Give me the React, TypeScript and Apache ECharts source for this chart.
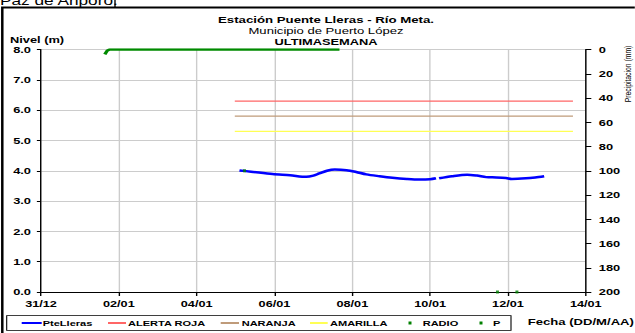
import React, { useEffect, useRef } from "react";
import * as echarts from "echarts";

// ---------- data ----------
const xTickLabels = ["31/12", "02/01", "04/01", "06/01", "08/01", "10/01", "12/01", "14/01"];
// day offsets from 31/12, water level (m)
const pteLlerasDays = [5.1, 5.4, 5.95, 6.4, 6.82, 7.0, 7.15, 7.35, 7.55, 7.85, 8.1, 8.36, 8.7, 9.03, 9.4, 9.72, 10.0, 10.15, 10.19, 10.23, 10.56, 10.95, 11.2, 11.44, 11.7, 11.95, 12.1, 12.46, 12.7, 12.93];
const pteLlerasLevel: (number | string)[] = [4.01, 3.97, 3.89, 3.85, 3.8, 3.84, 3.91, 4.0, 4.04, 4.02, 3.96, 3.88, 3.82, 3.77, 3.73, 3.71, 3.72, 3.75, "-", 3.75, 3.82, 3.87, 3.84, 3.79, 3.78, 3.76, 3.73, 3.75, 3.78, 3.82];
const alertDays = [4.98, 13.67];
const alertaRoja = [6.3, 6.3];
const naranja = [5.8, 5.8];
const amarilla = [5.3, 5.3];
const radioDays = [5.23, 11.73, 12.23];
const radioLevel = [4.0, 0, 0];
const pDays = [1.64, 1.7, 1.76, 7.67];
const pMm = [4, 1, 0, 0];

const seriesNames = ["PteLleras", "ALERTA ROJA", "NARANJA", "AMARILLA", "RADIO", "P"];
const seriesColors = ["#0000ff", "#ff6666", "#bf9b7a", "#ffff55", "#008000", "#008000"];

// ---------- layout ----------
const SX = 1.38; // horizontal stretch of the reference picture
const W = 635 / SX;
const X = (px: number) => px / SX;
const FONT = '"Liberation Sans", Arial, sans-serif';

const zip = (a: number[], b: (number | string)[]) => a.map((v, i) => [v, b[i]]);

export default function App() {
  const ref = useRef<HTMLDivElement>(null);
  useEffect(() => {
    if (!ref.current) return;
    const chart = echarts.init(ref.current, null, { renderer: "svg" });

    const legendLayout = [
      { kind: "line", x0: 21.7, x1: 41.7, tx: 42.7 },
      { kind: "line", x0: 108, x1: 126, tx: 128 },
      { kind: "line", x0: 220.7, x1: 239, tx: 241.7 },
      { kind: "line", x0: 310, x1: 327.7, tx: 330 },
      { kind: "dot", x0: 410, x1: 410, tx: 422.7 },
      { kind: "dot", x0: 481, x1: 481, tx: 493 },
    ];
    const ly = 323;
    const legendGraphics: any[] = [
      {
        type: "rect",
        shape: { x: X(6.7), y: 315.7, width: X(511 - 6.7), height: 14.6 },
        style: { fill: "#fff", stroke: "#000", lineWidth: 0.8 },
      },
    ];
    legendLayout.forEach((it, i) => {
      if (it.kind === "line") {
        legendGraphics.push({
          type: "line",
          shape: { x1: X(it.x0), y1: ly, x2: X(it.x1), y2: ly },
          style: { stroke: seriesColors[i], lineWidth: 2 },
        });
      } else {
        legendGraphics.push({
          type: "rect",
          shape: { x: X(it.x0 - 1.5), y: ly - 1.5, width: X(3), height: 3 },
          style: { fill: seriesColors[i] },
        });
      }
      legendGraphics.push({
        type: "text",
        x: X(it.tx),
        y: ly,
        style: {
          text: seriesNames[i],
          font: `bold 8px ${FONT}`,
          fill: "#000",
          align: "left",
          verticalAlign: "middle",
          textAlign: "left",
          textVerticalAlign: "middle",
        },
      });
    });

    const txt = (text: string, x: number, y: number, font: string, align = "left", extra: any = {}) => ({
      type: "text",
      x: X(x),
      y,
      ...extra,
      style: {
        text,
        font,
        fill: "#000",
        align,
        verticalAlign: "middle",
        textAlign: align,
        textVerticalAlign: "middle",
      },
    });

    const option: any = {
      animation: false,
      backgroundColor: "#fff",
      grid: { left: X(41), right: X(49), top: 49.5, bottom: 41, containLabel: false },
      xAxis: {
        type: "value",
        min: 0,
        max: 14,
        interval: 2,
        axisLine: { show: true, lineStyle: { color: "#000", width: 1 } },
        axisTick: { show: true, length: 4, lineStyle: { color: "#000" } },
        axisLabel: {
          margin: 7.5,
          color: "#000",
          fontFamily: FONT,
          fontWeight: "bold",
          fontSize: 9.2,
          formatter: (v: number) => xTickLabels[Math.round(v / 2)] ?? "",
        },
        splitLine: { show: true, lineStyle: { color: "#cccccc", width: 1 } },
      },
      yAxis: [
        {
          type: "value",
          min: 0,
          max: 8,
          interval: 1,
          axisLine: { show: true, lineStyle: { color: "#000", width: 1 } },
          axisTick: { show: true, length: 3, lineStyle: { color: "#000" } },
          axisLabel: {
            margin: X(10),
            color: "#000",
            fontFamily: FONT,
            fontWeight: "bold",
            fontSize: 9.3,
            formatter: (v: number) => v.toFixed(1),
          },
          splitLine: { show: true, lineStyle: { color: "#cccccc", width: 1 } },
        },
        {
          type: "value",
          position: "right",
          inverse: true,
          min: 0,
          max: 200,
          interval: 20,
          axisLine: { show: true, lineStyle: { color: "#000", width: 1 } },
          axisTick: { show: true, length: 4, lineStyle: { color: "#000" } },
          axisLabel: {
            margin: X(13),
            color: "#000",
            fontFamily: FONT,
            fontWeight: "bold",
            fontSize: 9.3,
          },
          splitLine: { show: false },
        },
      ],
      series: [
        {
          name: seriesNames[0],
          type: "line",
          data: zip(pteLlerasDays, pteLlerasLevel),
          smooth: 0.3,
          symbol: "none",
          connectNulls: false,
          lineStyle: { color: seriesColors[0], width: 2.5 },
          z: 5,
        },
        {
          name: seriesNames[1],
          type: "line",
          data: zip(alertDays, alertaRoja),
          symbol: "none",
          lineStyle: { color: seriesColors[1], width: 1.3 },
        },
        {
          name: seriesNames[2],
          type: "line",
          data: zip(alertDays, naranja),
          symbol: "none",
          lineStyle: { color: seriesColors[2], width: 1.3 },
        },
        {
          name: seriesNames[3],
          type: "line",
          data: zip(alertDays, amarilla),
          symbol: "none",
          lineStyle: { color: seriesColors[3], width: 1.3 },
        },
        {
          name: seriesNames[4],
          type: "scatter",
          data: zip(radioDays, radioLevel),
          symbol: "rect",
          symbolSize: [X(3), 3],
          itemStyle: { color: seriesColors[4] },
          z: 6,
        },
        {
          name: seriesNames[5],
          type: "line",
          yAxisIndex: 1,
          data: zip(pDays, pMm),
          symbol: "none",
          lineStyle: { color: "#008a00", width: 2.5 },
          z: 6,
        },
      ],
      graphic: [
        {
          type: "rect",
          shape: { x: X(2.3), y: 7.5, width: W + 20, height: 400 },
          style: { fill: "none", stroke: "#000", lineWidth: 1.8 },
          z: -1,
        },
        {
          type: "line",
          shape: { x1: X(115), y1: 0, x2: X(115), y2: 7.5 },
          style: { stroke: "#000", lineWidth: 1 },
        },
        {
          type: "text",
          x: 0,
          y: 7,
          style: {
            text: "Paz de Ariporo.",
            font: `12.5px ${FONT}`,
            fill: "#000",
            align: "left",
            verticalAlign: "bottom",
            textAlign: "left",
            textVerticalAlign: "bottom",
          },
        },
        txt("Estación Puente Lleras - Río Meta.", 326, 19.5, `bold 9.6px ${FONT}`, "center"),
        txt("Municipio de Puerto López", 326, 31, `9.5px ${FONT}`, "center"),
        txt("ULTIMASEMANA", 326, 41.5, `bold 9.3px ${FONT}`, "center"),
        txt("Nivel (m)", 10, 39.5, `bold 9.3px ${FONT}`, "left"),
        txt("Fecha (DD/M/AA)", 527.7, 322, `bold 9.5px ${FONT}`, "left"),
        txt("Precipitacion (mm)", 628.5, 74, `6.8px ${FONT}`, "center", { rotation: Math.PI / 2 }),
        ...legendGraphics,
      ],
    };
    chart.setOption(option);
    return () => chart.dispose();
  }, []);

  return (
    <div
      style={{
        position: "fixed",
        left: 0,
        top: 0,
        width: 635,
        height: 333,
        overflow: "hidden",
        background: "#fff",
      }}
    >
      <div
        ref={ref}
        style={{
          width: W,
          height: 333,
          transform: `scaleX(${SX})`,
          transformOrigin: "0 0",
        }}
      />
    </div>
  );
}
